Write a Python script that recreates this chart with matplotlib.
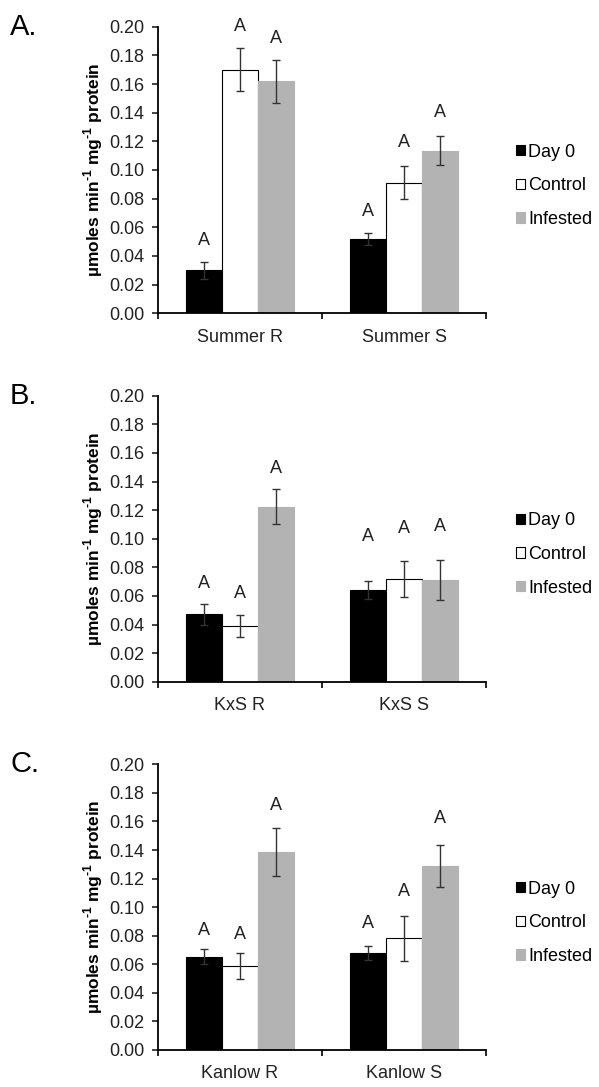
import matplotlib
matplotlib.use("Agg")
import matplotlib.pyplot as plt
import numpy as np

plt.rcParams.update({
    "font.family": ["Liberation Sans", "DejaVu Sans"],
    "font.size": 13,
    "mathtext.fontset": "custom",
    "mathtext.rm": "Liberation Sans:bold",
    "mathtext.bf": "Liberation Sans:bold",
    "axes.spines.top": False,
    "axes.spines.right": False,
})

SERIES = ["Day 0", "Control", "Infested"]
FACE = ["black", "white", "#b3b3b3"]
EDGE = ["black", "black", "#b3b3b3"]

# panel A
groups_a = ["Summer R", "Summer S"]
day0_a = [0.030, 0.052]
day0_err_a = [0.006, 0.004]
control_a = [0.170, 0.091]
control_err_a = [0.015, 0.0115]
infested_a = [0.162, 0.1135]
infested_err_a = [0.015, 0.010]
letters_a = [[0.051, 0.071], [0.200, 0.119], [0.192, 0.140]]

# panel B
groups_b = ["KxS R", "KxS S"]
day0_b = [0.047, 0.064]
day0_err_b = [0.0074, 0.0063]
control_b = [0.039, 0.0716]
control_err_b = [0.0075, 0.0125]
infested_b = [0.1224, 0.0711]
infested_err_b = [0.0124, 0.014]
letters_b = [[0.0688, 0.1014], [0.0618, 0.1072], [0.149, 0.1088]]

# panel C
groups_c = ["Kanlow R", "Kanlow S"]
day0_c = [0.0653, 0.0681]
day0_err_c = [0.0054, 0.005]
control_c = [0.0588, 0.0782]
control_err_c = [0.0088, 0.0158]
infested_c = [0.1389, 0.1286]
infested_err_c = [0.0168, 0.0147]
letters_c = [[0.084, 0.0887], [0.081, 0.111], [0.171, 0.162]]

yticks = np.arange(0, 0.201, 0.02)
YLABEL = r"µmoles min$^{\text{-1}}$ mg$^{\text{-1}}$ protein"

W, H = 599, 1087
fig = plt.figure(figsize=(W / 100, H / 100), dpi=100)

# axes boxes in pixels: (top, bottom)
boxes = [(26.7, 313.3), (395.7, 681.7), (764.3, 1050.0)]
x0, x1 = 158, 486


def draw_panel(ax, tag, groups, vals, errs, letters):
    x = np.arange(len(groups))
    w = 0.22
    bars = []
    for i, (v, e) in enumerate(zip(vals, errs)):
        b = ax.bar(x + (i - 1) * w, v, w, color=FACE[i], edgecolor=EDGE[i],
                   linewidth=0.8, label=SERIES[i], zorder=2)
        ax.errorbar(x + (i - 1) * w, v, yerr=e, fmt="none", ecolor="#333333",
                    elinewidth=1.0, capsize=3, capthick=1.0, zorder=3)
        for xi, ly in zip(x + (i - 1) * w, letters[i]):
            ax.text(xi, ly, "A", ha="center", va="center", fontsize=13,
                    color="#222222", clip_on=False)
        bars.append(b)

    ax.set_xlim(-0.5, len(groups) - 0.5)
    ax.set_ylim(0, 0.2)
    ax.set_yticks(yticks)
    ax.set_yticklabels(["%.2f" % t for t in yticks])
    ax.set_xticks(x)
    ax.set_xticklabels(groups)
    ax.set_xticks(np.arange(-0.5, len(groups), 1.0), minor=True)
    ax.tick_params(axis="x", which="major", length=0, pad=11, labelsize=13,
                   colors="#222222")
    ax.tick_params(axis="x", which="minor", length=4, width=1.2,
                   direction="out")
    ax.tick_params(axis="y", length=4, width=1.2, pad=6, labelsize=13,
                   colors="#222222")
    for s in ("left", "bottom"):
        ax.spines[s].set_linewidth(1.3)

    ax.text(-0.198, 0.5, YLABEL, transform=ax.transAxes, rotation=90,
            ha="center", va="center", fontsize=12.5, fontweight="bold")
    ax.text(-0.451, 0.972, tag, transform=ax.transAxes, ha="left",
            va="baseline", fontsize=21)

    ax.legend(handles=bars, loc="center left", bbox_to_anchor=(1.09, 0.445),
              frameon=False, fontsize=13, handlelength=0.5,
              handleheight=0.5, handletextpad=0.2, labelspacing=0.92,
              borderpad=0, borderaxespad=0)


panels = [
    ("A.", groups_a, [day0_a, control_a, infested_a],
     [day0_err_a, control_err_a, infested_err_a], letters_a),
    ("B.", groups_b, [day0_b, control_b, infested_b],
     [day0_err_b, control_err_b, infested_err_b], letters_b),
    ("C.", groups_c, [day0_c, control_c, infested_c],
     [day0_err_c, control_err_c, infested_err_c], letters_c),
]

for (top, bot), (tag, groups, vals, errs, letters) in zip(boxes, panels):
    ax = fig.add_axes([x0 / W, 1 - bot / H, (x1 - x0) / W, (bot - top) / H])
    draw_panel(ax, tag, groups, vals, errs, letters)

fig.savefig("out.png", dpi=100)
